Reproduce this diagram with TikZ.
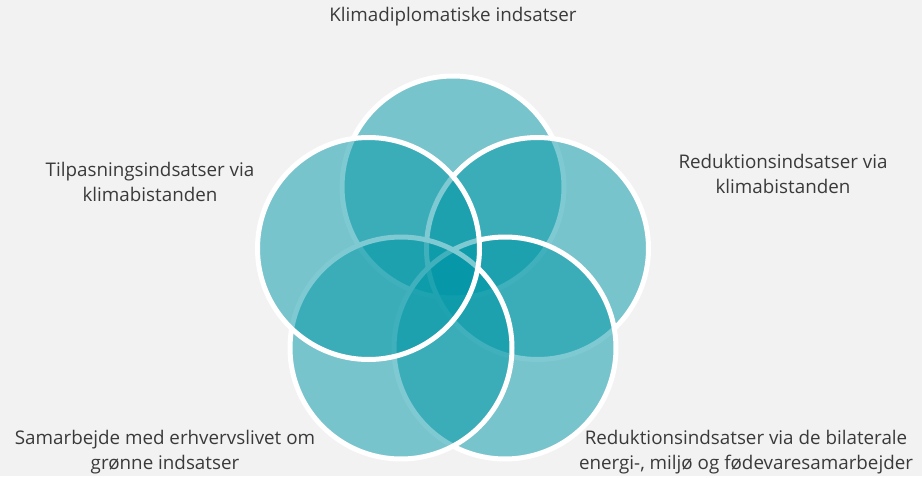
\documentclass[tikz,border=0pt]{standalone}
\usepackage{fontspec}
\setmainfont{Open Sans}
\usepackage{xcolor}
\definecolor{vennteal}{HTML}{0097A7}
\definecolor{bggray}{HTML}{F2F2F2}
\definecolor{labelgray}{HTML}{3A3A3A}

\begin{document}
\begin{tikzpicture}[x=1pt,y=-1pt]
\tikzset{area/.style={circle,minimum size=222pt,fill=vennteal,fill opacity=0.5,draw=white,line width=5pt}}
\tikzset{caption/.style={text=labelgray,align=center,font=\fontsize{18.8}{25}\selectfont}}

\fill[bggray] (0,0) rectangle (922,476);

\node[area] (klima) at (453,187) {};
\node[area] (reduk) at (537.5,248.5) {};
\node[area] (bilat) at (505,348) {};
\node[area] (erhverv) at (401,348) {};
\node[area] (tilpas) at (368.5,248.5) {};

\node[caption] (klimatxt) at (453,17) {Klimadiplomatiske indsatser};
\node[caption] (reduktxt) at (783,174) {Reduktionsindsatser via\\klimabistanden};
\node[caption] (bilattxt) at (746,452) {Reduktionsindsatser via de bilaterale\\energi-, miljø og fødevaresamarbejder};
\node[caption] (erhvervtxt) at (165,452) {Samarbejde med erhvervslivet om\\grønne indsatser};
\node[caption] (tilpastxt) at (150,182) {Tilpasningsindsatser via\\klimabistanden};

\end{tikzpicture}
\end{document}
